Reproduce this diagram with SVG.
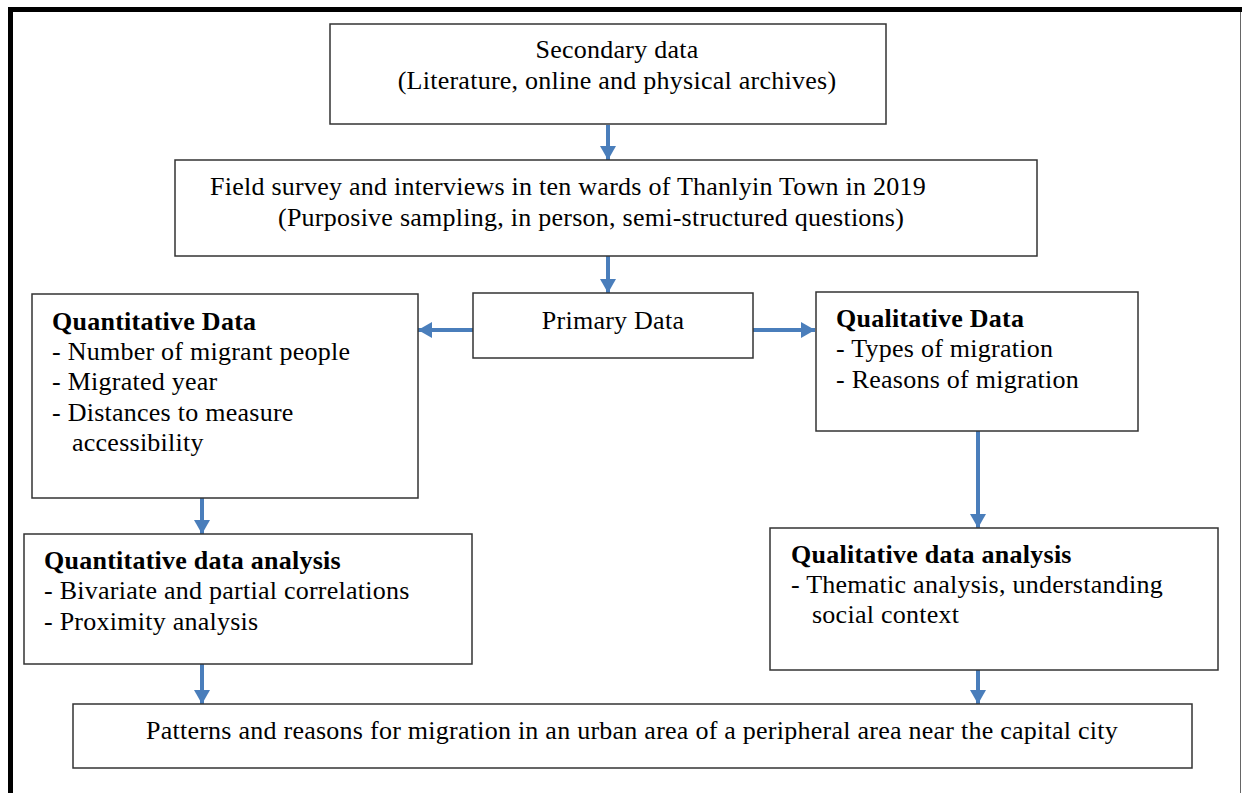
<svg xmlns="http://www.w3.org/2000/svg" width="1242" height="793" viewBox="0 0 1242 793">
  <style>
    .box { fill: #ffffff; stroke: #333333; stroke-width: 1.5; }
    .t { font-family: "Liberation Serif", "Times New Roman", serif; font-size: 26px; letter-spacing: 0.25px; fill: #000000; }
    .b { font-weight: bold; }
    .c { text-anchor: middle; }
    .conn { stroke: #4a7ebb; stroke-width: 4; fill: none; }
  </style>
  <defs>
    <marker id="ah" markerUnits="userSpaceOnUse" markerWidth="16" markerHeight="16" refX="14" refY="8" orient="auto">
      <path d="M0,0 L14,8 L0,16 Z" fill="#4a7ebb"/>
    </marker>
  </defs>
  <rect x="0" y="0" width="1242" height="793" fill="#ffffff"/>
  <!-- outer frame -->
  <g id="frame">
    <rect x="8" y="7" width="1234" height="5" fill="#000000"/>
    <rect x="8" y="7" width="5" height="786" fill="#000000"/>
    <line x1="1240.5" y1="12" x2="1240.5" y2="793" stroke="#666666" stroke-width="1"/>
  </g>

  <g id="connectors">
    <line class="conn" x1="608" y1="125" x2="608" y2="160" marker-end="url(#ah)"/>
    <line class="conn" x1="608" y1="256" x2="608" y2="293" marker-end="url(#ah)"/>
    <line class="conn" x1="473" y1="330" x2="418" y2="330" marker-end="url(#ah)"/>
    <line class="conn" x1="753" y1="330" x2="815" y2="330" marker-end="url(#ah)"/>
    <line class="conn" x1="202" y1="498" x2="202" y2="534" marker-end="url(#ah)"/>
    <line class="conn" x1="978" y1="431" x2="978" y2="528" marker-end="url(#ah)"/>
    <line class="conn" x1="202" y1="664" x2="202" y2="704" marker-end="url(#ah)"/>
    <line class="conn" x1="978" y1="670" x2="978" y2="704" marker-end="url(#ah)"/>
  </g>

  <g id="secondary">
    <rect class="box" x="330" y="24" width="556" height="100"/>
    <text class="t c" x="617" y="58">Secondary data</text>
    <text class="t c" x="617" y="89">(Literature, online and physical archives)</text>
  </g>

  <g id="field">
    <rect class="box" x="175" y="160" width="862" height="96"/>
    <text class="t" x="210" y="195">Field survey and interviews in ten wards of Thanlyin Town in 2019</text>
    <text class="t" x="278" y="226">(Purposive sampling, in person, semi-structured questions)</text>
  </g>

  <g id="primary">
    <rect class="box" x="473" y="293" width="280" height="65"/>
    <text class="t c" x="613" y="329">Primary Data</text>
  </g>

  <g id="quantitative-data">
    <rect class="box" x="32" y="294" width="386" height="204"/>
    <text class="t b" x="52" y="330">Quantitative Data</text>
    <text class="t" x="52" y="360">- Number of migrant people</text>
    <text class="t" x="52" y="390">- Migrated year</text>
    <text class="t" x="52" y="421">- Distances to measure</text>
    <text class="t" x="72" y="451">accessibility</text>
  </g>

  <g id="qualitative-data">
    <rect class="box" x="816" y="292" width="322" height="139"/>
    <text class="t b" x="836" y="327">Qualitative Data</text>
    <text class="t" x="836" y="357">- Types of migration</text>
    <text class="t" x="836" y="388">- Reasons of migration</text>
  </g>

  <g id="quantitative-analysis">
    <rect class="box" x="24" y="534" width="448" height="130"/>
    <text class="t b" x="44" y="569">Quantitative data analysis</text>
    <text class="t" x="44" y="599">- Bivariate and partial correlations</text>
    <text class="t" x="44" y="630">- Proximity analysis</text>
  </g>

  <g id="qualitative-analysis">
    <rect class="box" x="770" y="528" width="448" height="142"/>
    <text class="t b" x="791" y="563">Qualitative data analysis</text>
    <text class="t" x="791" y="593">- Thematic analysis, understanding</text>
    <text class="t" x="812" y="623">social context</text>
  </g>

  <g id="patterns">
    <rect class="box" x="73" y="704" width="1119" height="64"/>
    <text class="t c" x="632" y="739">Patterns and reasons for migration in an urban area of a peripheral area near the capital city</text>
  </g>
</svg>
